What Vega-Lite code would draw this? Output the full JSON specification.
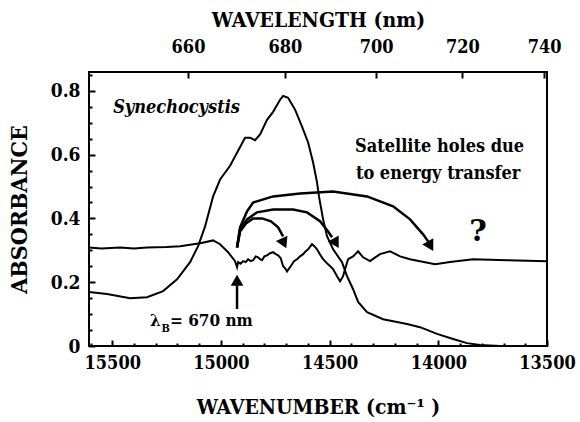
{
  "$schema": "https://vega.github.io/schema/vega-lite/v6.json",
  "width": 458,
  "height": 274,
  "autosize": {"type": "none"},
  "padding": {"left": 89, "top": 72, "right": 33, "bottom": 76},
  "background": "white",
  "config": {
    "view": {"stroke": "black", "strokeWidth": 2},
    "axis": {
      "domain": false, "grid": false,
      "labelFont": "DejaVu Serif Condensed", "titleFont": "DejaVu Serif Condensed",
      "labelColor": "black", "titleColor": "black",
      "labelFontWeight": "bold", "titleFontWeight": "bold", "labelFontSize": 18, "titleFontSize": 21,
      "labelFlush": false, "labelOverlap": false
    }
  },
  "datasets": {
    "curves": [
      {"s": "abs", "i": 0, "wn": 15607, "A": 0.169},
      {"s": "abs", "i": 1, "wn": 15524, "A": 0.163},
      {"s": "abs", "i": 2, "wn": 15418, "A": 0.150},
      {"s": "abs", "i": 3, "wn": 15340, "A": 0.153},
      {"s": "abs", "i": 4, "wn": 15266, "A": 0.172},
      {"s": "abs", "i": 5, "wn": 15202, "A": 0.209},
      {"s": "abs", "i": 6, "wn": 15142, "A": 0.263},
      {"s": "abs", "i": 7, "wn": 15105, "A": 0.313},
      {"s": "abs", "i": 8, "wn": 15073, "A": 0.375},
      {"s": "abs", "i": 9, "wn": 15036, "A": 0.469},
      {"s": "abs", "i": 10, "wn": 15004, "A": 0.522},
      {"s": "abs", "i": 11, "wn": 14958, "A": 0.565},
      {"s": "abs", "i": 12, "wn": 14926, "A": 0.606},
      {"s": "abs", "i": 13, "wn": 14889, "A": 0.653},
      {"s": "abs", "i": 14, "wn": 14866, "A": 0.653},
      {"s": "abs", "i": 15, "wn": 14843, "A": 0.645},
      {"s": "abs", "i": 16, "wn": 14820, "A": 0.663},
      {"s": "abs", "i": 17, "wn": 14788, "A": 0.709},
      {"s": "abs", "i": 18, "wn": 14760, "A": 0.734},
      {"s": "abs", "i": 19, "wn": 14728, "A": 0.772},
      {"s": "abs", "i": 20, "wn": 14714, "A": 0.784},
      {"s": "abs", "i": 21, "wn": 14691, "A": 0.778},
      {"s": "abs", "i": 22, "wn": 14659, "A": 0.741},
      {"s": "abs", "i": 23, "wn": 14627, "A": 0.688},
      {"s": "abs", "i": 24, "wn": 14599, "A": 0.638},
      {"s": "abs", "i": 25, "wn": 14576, "A": 0.575},
      {"s": "abs", "i": 26, "wn": 14558, "A": 0.513},
      {"s": "abs", "i": 27, "wn": 14549, "A": 0.469},
      {"s": "abs", "i": 28, "wn": 14530, "A": 0.397},
      {"s": "abs", "i": 29, "wn": 14512, "A": 0.344},
      {"s": "abs", "i": 30, "wn": 14484, "A": 0.303},
      {"s": "abs", "i": 31, "wn": 14443, "A": 0.263},
      {"s": "abs", "i": 32, "wn": 14420, "A": 0.219},
      {"s": "abs", "i": 33, "wn": 14392, "A": 0.178},
      {"s": "abs", "i": 34, "wn": 14369, "A": 0.138},
      {"s": "abs", "i": 35, "wn": 14328, "A": 0.106},
      {"s": "abs", "i": 36, "wn": 14254, "A": 0.084},
      {"s": "abs", "i": 37, "wn": 14144, "A": 0.069},
      {"s": "abs", "i": 38, "wn": 14084, "A": 0.059},
      {"s": "abs", "i": 39, "wn": 14006, "A": 0.038},
      {"s": "abs", "i": 40, "wn": 13932, "A": 0.022},
      {"s": "abs", "i": 41, "wn": 13868, "A": 0.009},
      {"s": "abs", "i": 42, "wn": 13808, "A": 0.003},
      {"s": "abs", "i": 43, "wn": 13716, "A": 0.0},
      {"s": "abs", "i": 44, "wn": 13500, "A": 0.0},
      {"s": "hole", "i": 0, "wn": 15607, "A": 0.309},
      {"s": "hole", "i": 1, "wn": 15550, "A": 0.306},
      {"s": "hole", "i": 2, "wn": 15464, "A": 0.309},
      {"s": "hole", "i": 3, "wn": 15400, "A": 0.306},
      {"s": "hole", "i": 4, "wn": 15340, "A": 0.309},
      {"s": "hole", "i": 5, "wn": 15250, "A": 0.310},
      {"s": "hole", "i": 6, "wn": 15188, "A": 0.313},
      {"s": "hole", "i": 7, "wn": 15096, "A": 0.322},
      {"s": "hole", "i": 8, "wn": 15036, "A": 0.331},
      {"s": "hole", "i": 9, "wn": 15004, "A": 0.319},
      {"s": "hole", "i": 10, "wn": 14967, "A": 0.294},
      {"s": "hole", "i": 11, "wn": 14935, "A": 0.266},
      {"s": "hole", "i": 12, "wn": 14926, "A": 0.247},
      {"s": "hole", "i": 13, "wn": 14921, "A": 0.263},
      {"s": "hole", "i": 14, "wn": 14910, "A": 0.258},
      {"s": "hole", "i": 15, "wn": 14898, "A": 0.266},
      {"s": "hole", "i": 16, "wn": 14886, "A": 0.263},
      {"s": "hole", "i": 17, "wn": 14875, "A": 0.272},
      {"s": "hole", "i": 18, "wn": 14863, "A": 0.266},
      {"s": "hole", "i": 19, "wn": 14852, "A": 0.269},
      {"s": "hole", "i": 20, "wn": 14840, "A": 0.281},
      {"s": "hole", "i": 21, "wn": 14829, "A": 0.278},
      {"s": "hole", "i": 22, "wn": 14820, "A": 0.272},
      {"s": "hole", "i": 23, "wn": 14811, "A": 0.269},
      {"s": "hole", "i": 24, "wn": 14800, "A": 0.281},
      {"s": "hole", "i": 25, "wn": 14788, "A": 0.284},
      {"s": "hole", "i": 26, "wn": 14774, "A": 0.291},
      {"s": "hole", "i": 27, "wn": 14760, "A": 0.294},
      {"s": "hole", "i": 28, "wn": 14748, "A": 0.288},
      {"s": "hole", "i": 29, "wn": 14737, "A": 0.284},
      {"s": "hole", "i": 30, "wn": 14725, "A": 0.275},
      {"s": "hole", "i": 31, "wn": 14714, "A": 0.250},
      {"s": "hole", "i": 32, "wn": 14705, "A": 0.244},
      {"s": "hole", "i": 33, "wn": 14696, "A": 0.234},
      {"s": "hole", "i": 34, "wn": 14682, "A": 0.247},
      {"s": "hole", "i": 35, "wn": 14664, "A": 0.266},
      {"s": "hole", "i": 36, "wn": 14650, "A": 0.272},
      {"s": "hole", "i": 37, "wn": 14636, "A": 0.281},
      {"s": "hole", "i": 38, "wn": 14622, "A": 0.288},
      {"s": "hole", "i": 39, "wn": 14610, "A": 0.297},
      {"s": "hole", "i": 40, "wn": 14599, "A": 0.303},
      {"s": "hole", "i": 41, "wn": 14581, "A": 0.319},
      {"s": "hole", "i": 42, "wn": 14570, "A": 0.313},
      {"s": "hole", "i": 43, "wn": 14558, "A": 0.303},
      {"s": "hole", "i": 44, "wn": 14545, "A": 0.288},
      {"s": "hole", "i": 45, "wn": 14530, "A": 0.272},
      {"s": "hole", "i": 46, "wn": 14507, "A": 0.256},
      {"s": "hole", "i": 47, "wn": 14484, "A": 0.241},
      {"s": "hole", "i": 48, "wn": 14466, "A": 0.219},
      {"s": "hole", "i": 49, "wn": 14452, "A": 0.203},
      {"s": "hole", "i": 50, "wn": 14438, "A": 0.219},
      {"s": "hole", "i": 51, "wn": 14425, "A": 0.250},
      {"s": "hole", "i": 52, "wn": 14415, "A": 0.272},
      {"s": "hole", "i": 53, "wn": 14392, "A": 0.281},
      {"s": "hole", "i": 54, "wn": 14369, "A": 0.297},
      {"s": "hole", "i": 55, "wn": 14346, "A": 0.278},
      {"s": "hole", "i": 56, "wn": 14314, "A": 0.266},
      {"s": "hole", "i": 57, "wn": 14290, "A": 0.278},
      {"s": "hole", "i": 58, "wn": 14268, "A": 0.288},
      {"s": "hole", "i": 59, "wn": 14222, "A": 0.297},
      {"s": "hole", "i": 60, "wn": 14176, "A": 0.281},
      {"s": "hole", "i": 61, "wn": 14130, "A": 0.272},
      {"s": "hole", "i": 62, "wn": 14084, "A": 0.266},
      {"s": "hole", "i": 63, "wn": 14015, "A": 0.256},
      {"s": "hole", "i": 64, "wn": 13946, "A": 0.263},
      {"s": "hole", "i": 65, "wn": 13840, "A": 0.272},
      {"s": "hole", "i": 66, "wn": 13684, "A": 0.269},
      {"s": "hole", "i": 67, "wn": 13500, "A": 0.266}
    ],
    "arrows": [
      {"a": "A", "i": 0, "wn": 14926, "A": 0.309},
      {"a": "A", "i": 1, "wn": 14912, "A": 0.359},
      {"a": "A", "i": 2, "wn": 14885, "A": 0.384},
      {"a": "A", "i": 3, "wn": 14852, "A": 0.400},
      {"a": "A", "i": 4, "wn": 14811, "A": 0.400},
      {"a": "A", "i": 5, "wn": 14770, "A": 0.391},
      {"a": "A", "i": 6, "wn": 14737, "A": 0.372},
      {"a": "A", "i": 7, "wn": 14714, "A": 0.344},
      {"a": "B", "i": 0, "wn": 14926, "A": 0.309},
      {"a": "B", "i": 1, "wn": 14912, "A": 0.366},
      {"a": "B", "i": 2, "wn": 14880, "A": 0.397},
      {"a": "B", "i": 3, "wn": 14834, "A": 0.419},
      {"a": "B", "i": 4, "wn": 14760, "A": 0.428},
      {"a": "B", "i": 5, "wn": 14668, "A": 0.428},
      {"a": "B", "i": 6, "wn": 14604, "A": 0.419},
      {"a": "B", "i": 7, "wn": 14544, "A": 0.391},
      {"a": "B", "i": 8, "wn": 14507, "A": 0.359},
      {"a": "B", "i": 9, "wn": 14489, "A": 0.341},
      {"a": "C", "i": 0, "wn": 14926, "A": 0.309},
      {"a": "C", "i": 1, "wn": 14912, "A": 0.372},
      {"a": "C", "i": 2, "wn": 14880, "A": 0.422},
      {"a": "C", "i": 3, "wn": 14852, "A": 0.450},
      {"a": "C", "i": 4, "wn": 14760, "A": 0.469},
      {"a": "C", "i": 5, "wn": 14636, "A": 0.478},
      {"a": "C", "i": 6, "wn": 14484, "A": 0.484},
      {"a": "C", "i": 7, "wn": 14328, "A": 0.469},
      {"a": "C", "i": 8, "wn": 14208, "A": 0.438},
      {"a": "C", "i": 9, "wn": 14130, "A": 0.397},
      {"a": "C", "i": 10, "wn": 14070, "A": 0.350},
      {"a": "C", "i": 11, "wn": 14047, "A": 0.328},
      {"a": "V", "i": 0, "wn": 14926, "A": 0.116},
      {"a": "V", "i": 1, "wn": 14926, "A": 0.190}
    ],
    "heads": [
      {"wn": 14710, "A": 0.322, "shape": "triangle-down", "ang": -25},
      {"wn": 14471, "A": 0.322, "shape": "triangle-down", "ang": -30},
      {"wn": 14036, "A": 0.313, "shape": "triangle-down", "ang": -30},
      {"wn": 14926, "A": 0.206, "shape": "triangle-up", "ang": 0}
    ],
    "labels": [
      {"t": "Synechocystis", "wn": 15496, "A": 0.731, "k": "title"},
      {"t": "Satellite holes due", "wn": 14383, "A": 0.609, "k": "note"},
      {"t": "to energy transfer", "wn": 14379, "A": 0.522, "k": "note"},
      {"t": "?", "wn": 13817, "A": 0.328, "k": "q"},
      {"t": "λ", "wn": 15326, "A": 0.0625, "k": "lam"},
      {"t": "B", "wn": 15274, "A": 0.045, "k": "sub"},
      {"t": "= 670 nm", "wn": 15234, "A": 0.0625, "k": "lam"}
    ]
  },
  "layer": [
    {
      "data": {"name": "curves"},
      "mark": {"type": "line", "color": "black", "strokeWidth": 2},
      "encoding": {
        "x": {"field": "wn", "type": "quantitative",
          "scale": {"domain": [13500, 15607], "reverse": true, "nice": false, "zero": false},
          "axis": {"orient": "bottom", "offset": -6, "values": [15500, 15000, 14500, 14000, 13500], "format": "d",
            "ticks": true, "tickColor": "black", "tickSize": 6, "tickWidth": 2, "labelPadding": 8, "title": "WAVENUMBER (cm⁻¹ )", "titlePadding": 24}},
        "y": {"field": "A", "type": "quantitative",
          "scale": {"domain": [0, 0.859], "nice": false, "zero": true},
          "axis": {"orient": "left", "offset": -6, "values": [0, 0.2, 0.4, 0.6, 0.8],
            "labelExpr": "datum.value == 0 ? '0' : format(datum.value, '.1f')", "labelFontSize": 19,
            "ticks": true, "tickColor": "black", "tickSize": 6, "tickWidth": 2, "labelPadding": 9, "title": "ABSORBANCE", "titleFontSize": 23, "titlePadding": 19}},
        "detail": {"field": "s"},
        "order": {"field": "i", "type": "quantitative"}
      }
    },
    {
      "data": {"name": "arrows"},
      "mark": {"type": "line", "color": "black", "strokeWidth": 2.5},
      "encoding": {
        "x": {"field": "wn", "type": "quantitative",
          "scale": {"domain": [13500, 15607], "reverse": true, "nice": false, "zero": false},
          "axis": {"orient": "bottom", "offset": -3, "values": [13600, 13700, 13800, 13900, 14100, 14200, 14300, 14400, 14600, 14700, 14800, 14900, 15100, 15200, 15300, 15400, 15600],
            "labels": false, "ticks": true, "tickColor": "black", "tickSize": 3, "tickWidth": 2, "title": null}},
        "y": {"field": "A", "type": "quantitative",
          "scale": {"domain": [0, 0.859], "nice": false, "zero": true},
          "axis": {"orient": "left", "offset": -3, "values": [0.05, 0.1, 0.15, 0.25, 0.3, 0.35, 0.45, 0.5, 0.55, 0.65, 0.7, 0.75, 0.85],
            "labels": false, "ticks": true, "tickColor": "black", "tickSize": 3, "tickWidth": 2, "title": null}},
        "detail": {"field": "a"},
        "order": {"field": "i", "type": "quantitative"}
      }
    },
    {
      "data": {"name": "heads"},
      "mark": {"type": "point", "filled": true, "color": "black", "opacity": 1, "size": 160},
      "encoding": {
        "x": {"field": "wn", "type": "quantitative",
          "scale": {"domain": [13500, 15607], "reverse": true, "nice": false, "zero": false},
          "axis": {"orient": "top", "offset": -6, "values": [15151.515, 14705.882, 14285.714, 13888.889, 13513.514],
            "labelExpr": "format(round(10000000 / datum.value), 'd')",
            "ticks": true, "tickColor": "black", "tickSize": 6, "tickWidth": 2, "labelPadding": 16, "title": "WAVELENGTH (nm)", "titlePadding": 8}},
        "y": {"field": "A", "type": "quantitative",
          "scale": {"domain": [0, 0.859], "nice": false, "zero": true}, "axis": null},
        "shape": {"field": "shape", "type": "nominal", "scale": null},
        "angle": {"field": "ang", "type": "quantitative", "scale": null}
      }
    },
    {
      "data": {"name": "labels"},
      "transform": [{"filter": "datum.k == 'title'"}],
      "mark": {"type": "text", "align": "left", "baseline": "alphabetic", "font": "DejaVu Serif Condensed", "fontSize": 18, "fontWeight": "bold", "fontStyle": "italic", "color": "black"},
      "encoding": {
        "x": {"field": "wn", "type": "quantitative", "scale": {"domain": [13500, 15607], "reverse": true, "nice": false, "zero": false}, "axis": null},
        "y": {"field": "A", "type": "quantitative", "scale": {"domain": [0, 0.859], "nice": false, "zero": true}, "axis": null},
        "text": {"field": "t"}
      }
    },
    {
      "data": {"name": "labels"},
      "transform": [{"filter": "datum.k == 'note'"}],
      "mark": {"type": "text", "align": "left", "baseline": "alphabetic", "font": "DejaVu Serif Condensed", "fontSize": 18, "fontWeight": "bold", "color": "black"},
      "encoding": {
        "x": {"field": "wn", "type": "quantitative", "scale": {"domain": [13500, 15607], "reverse": true, "nice": false, "zero": false}, "axis": null},
        "y": {"field": "A", "type": "quantitative", "scale": {"domain": [0, 0.859], "nice": false, "zero": true}, "axis": null},
        "text": {"field": "t"}
      }
    },
    {
      "data": {"name": "labels"},
      "transform": [{"filter": "datum.k == 'lam'"}],
      "mark": {"type": "text", "align": "left", "baseline": "alphabetic", "font": "DejaVu Serif Condensed", "fontSize": 17, "fontWeight": "bold", "color": "black"},
      "encoding": {
        "x": {"field": "wn", "type": "quantitative", "scale": {"domain": [13500, 15607], "reverse": true, "nice": false, "zero": false}, "axis": null},
        "y": {"field": "A", "type": "quantitative", "scale": {"domain": [0, 0.859], "nice": false, "zero": true}, "axis": null},
        "text": {"field": "t"}
      }
    },
    {
      "data": {"name": "labels"},
      "transform": [{"filter": "datum.k == 'sub'"}],
      "mark": {"type": "text", "align": "left", "baseline": "alphabetic", "font": "DejaVu Serif Condensed", "fontSize": 11, "fontWeight": "bold", "color": "black"},
      "encoding": {
        "x": {"field": "wn", "type": "quantitative", "scale": {"domain": [13500, 15607], "reverse": true, "nice": false, "zero": false}, "axis": null},
        "y": {"field": "A", "type": "quantitative", "scale": {"domain": [0, 0.859], "nice": false, "zero": true}, "axis": null},
        "text": {"field": "t"}
      }
    },
    {
      "data": {"name": "labels"},
      "transform": [{"filter": "datum.k == 'q'"}],
      "mark": {"type": "text", "align": "center", "baseline": "alphabetic", "font": "DejaVu Serif", "fontSize": 30, "fontWeight": "bold", "color": "black"},
      "encoding": {
        "x": {"field": "wn", "type": "quantitative", "scale": {"domain": [13500, 15607], "reverse": true, "nice": false, "zero": false}, "axis": null},
        "y": {"field": "A", "type": "quantitative", "scale": {"domain": [0, 0.859], "nice": false, "zero": true}, "axis": null},
        "text": {"field": "t"}
      }
    }
  ],
  "resolve": {"axis": {"x": "independent", "y": "independent"}}
}
